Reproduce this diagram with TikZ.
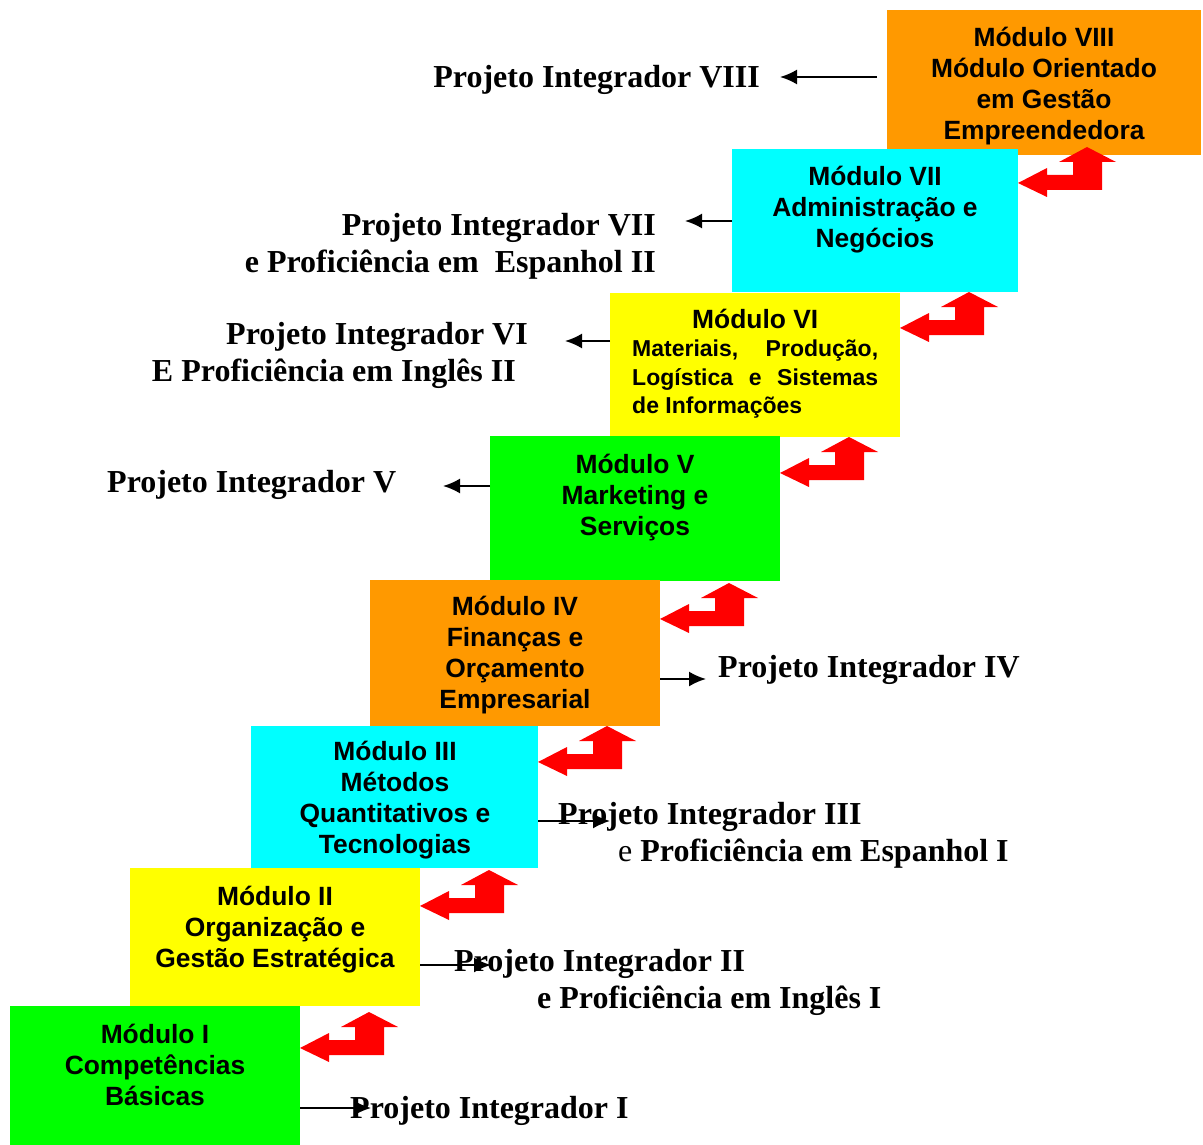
\documentclass[tikz,border=0pt]{standalone}
\usepackage{fontspec}
\setmainfont{Liberation Serif}
\newfontfamily\arialf{Liberation Sans}
\usetikzlibrary{arrows.meta}
\definecolor{mgreen}{HTML}{00FF00}
\definecolor{myellow}{HTML}{FFFF00}
\definecolor{mcyan}{HTML}{00FFFF}
\definecolor{morange}{HTML}{FF9900}
\tikzset{
  redarr/.pic={\fill[red] (0,0) -- ++(29,-15) -- ++(0,7) -- ++(26,0) -- ++(0,-13) -- ++(-14,0)
     -- ++(28,-15) -- ++(29,15) -- ++(-14,0) -- ++(0,28) -- ++(-55,0) -- ++(0,7) -- cycle;}
}
\begin{document}
\begin{tikzpicture}[x=1pt,y=-1pt,
  modbox/.style={draw=none, inner sep=0pt, outer sep=0pt, anchor=north west},
  modtext/.style={font=\arialf\bfseries\fontsize{26.4}{31}\selectfont, align=center, inner sep=0pt},
  projlabel/.style={font=\bfseries\fontsize{32}{37}\selectfont, inner sep=0pt},
  blk/.style={line width=2pt, -{Latex[length=17pt,width=15pt]}}]
\useasboundingbox (0,0) rectangle (1203,1145);
\fill[white] (0,0) rectangle (1203,1145);
% module boxes (top to bottom, lower ones drawn on top)
\node[modbox, fill=morange, minimum width=314pt, minimum height=145pt] (b8) at (887,10) {};
\node[modbox, fill=mcyan,   minimum width=286pt, minimum height=143pt] (b7) at (732,149) {};
\node[modbox, fill=myellow, minimum width=290pt, minimum height=144pt] (b6) at (610,293) {};
\node[modbox, fill=mgreen,  minimum width=290pt, minimum height=145pt] (b5) at (490,436) {};
\node[modbox, fill=morange, minimum width=290pt, minimum height=146pt] (b4) at (370,580) {};
\node[modbox, fill=mcyan,   minimum width=287pt, minimum height=142pt] (b3) at (251,726) {};
\node[modbox, fill=myellow, minimum width=290pt, minimum height=138pt] (b2) at (130,868) {};
\node[modbox, fill=mgreen,  minimum width=290pt, minimum height=139pt] (b1) at (10,1006) {};
% module texts
\node[modtext] (t8) at (1044,86) {Módulo VIII\\Módulo Orientado\\em Gestão\\Empreendedora};
\node[modtext] (t7) at (875,209.5) {Módulo VII\\Administração e\\Negócios};
\node[font=\arialf\bfseries\fontsize{23}{28.5}\selectfont, align=left, inner sep=0pt, anchor=north west] (t6) at (632,308)
  {\makebox[246pt]{\fontsize{26.4}{28.5}\selectfont\rule{0pt}{20pt}Módulo VI}\\
   \makebox[246pt][s]{Materiais,\hfill Produção,}\\
   \makebox[246pt][s]{Logística\hfill e\hfill Sistemas}\\
   de Informações};
\node[modtext] (t5) at (635,497.5) {Módulo V\\Marketing e\\Serviços};
\node[modtext] (t4) at (515,655.5) {Módulo IV\\Finanças e\\Orçamento\\Empresarial};
\node[modtext] (t3) at (395,800) {Módulo III\\Métodos\\Quantitativos e\\Tecnologias};
\node[modtext] (t2) at (275,929.5) {Módulo II\\Organização e\\Gestão Estratégica};
\node[modtext] (t1) at (155,1064.5) {Módulo I\\Competências\\Básicas};
% red step arrows
\pic at ([yshift=-42pt]b1.north east) {redarr};
\pic at ([yshift=-38pt]b2.north east) {redarr};
\pic at ([yshift=-36pt]b3.north east) {redarr};
\pic at ([yshift=-39pt]b4.north east) {redarr};
\pic at ([yshift=-37pt]b5.north east) {redarr};
\pic at ([yshift=-35pt]b6.north east) {redarr};
\pic at ([yshift=-34pt]b7.north east) {redarr};
% project labels
\node[projlabel, anchor=base east] (l8) at (760,88) {Projeto Integrador VIII};
\node[projlabel, anchor=north east, align=right] (l7) at (656,210)
  {\rule{0pt}{25pt}Projeto Integrador VII\\e Proficiência em\ \ Espanhol II};
\node[projlabel, anchor=north east, align=right] (l6) at (528,319)
  {\rule{0pt}{25pt}Projeto Integrador VI\\E Proficiência em Inglês II\hspace*{12pt}};
\node[projlabel, anchor=base west] (l5) at (107,492) {Projeto Integrador V};
\node[projlabel, anchor=base west] (l4) at (718,677) {Projeto Integrador IV};
\node[projlabel, anchor=north west, align=left] (l3) at (558,799)
  {\rule{0pt}{25pt}Projeto Integrador III\\\hspace*{60pt}{\mdseries e} Proficiência em Espanhol I};
\node[projlabel, anchor=north west, align=left] (l2) at (454,946)
  {\rule{0pt}{25pt}Projeto Integrador II\\\hspace*{83pt}e Proficiência em Inglês I};
\node[projlabel, anchor=base west] (l1) at (350,1118) {Projeto Integrador I};
% black connectors
\coordinate (e8) at (780,77);
\coordinate (e7) at (685,221);
\coordinate (e6) at (565,341);
\coordinate (e5) at (443,486);
\coordinate (e4) at (706,679);
\coordinate (e3) at (610,821);
\coordinate (e2) at (491,965);
\coordinate (e1) at (371,1108);
\draw[blk, shorten <=10pt] (b8.west |- e8) -- (e8);
\draw[blk] (b7.west |- e7) -- (e7);
\draw[blk] (b6.west |- e6) -- (e6);
\draw[blk] (b5.west |- e5) -- (e5);
\draw[blk] (b4.east |- e4) -- (e4);
\draw[blk] (b3.east |- e3) -- (e3);
\draw[blk] (b2.east |- e2) -- (e2);
\draw[blk] (b1.east |- e1) -- (e1);
\end{tikzpicture}
\end{document}
